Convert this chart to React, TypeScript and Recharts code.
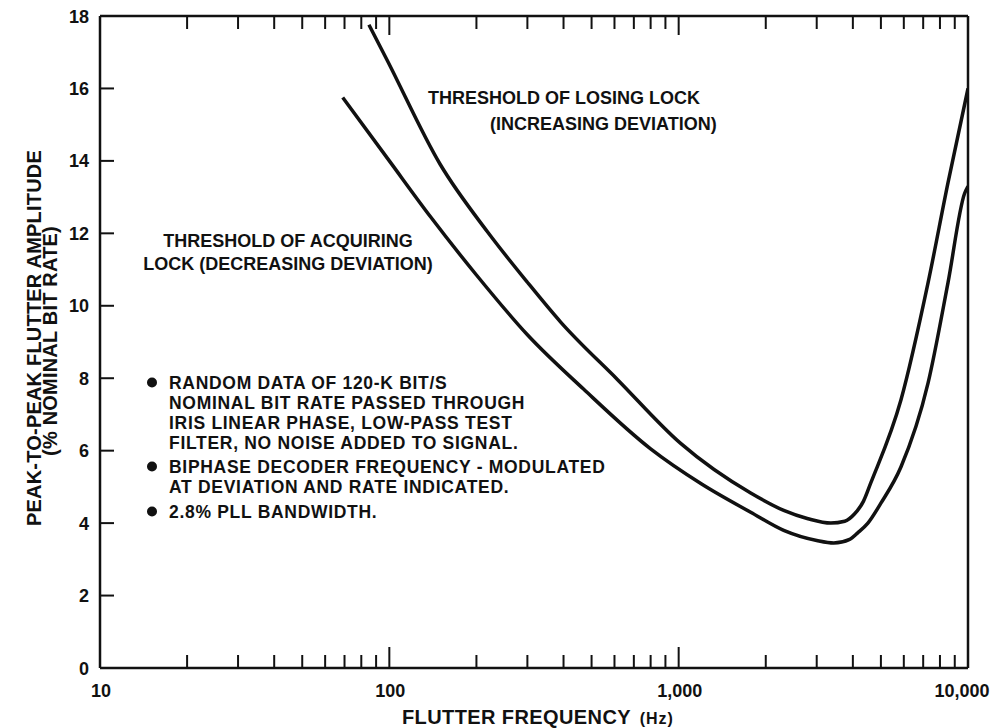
import { LineChart, Line, XAxis, YAxis, Customized } from 'recharts';

// threshold of losing lock (increasing deviation)
const losingFreq = [85, 98, 150, 218, 300, 391, 615, 1016, 1774, 2307, 2800, 3357, 3750, 4050, 4350, 4613, 5864, 7279, 8530, 10000];
const losingAmp = [17.76, 16.8, 13.9, 12.05, 10.65, 9.55, 7.96, 6.2, 4.83, 4.35, 4.12, 4.0, 4.05, 4.25, 4.6, 5.11, 7.4, 10.64, 13.4, 16.0];

// threshold of acquiring lock (decreasing deviation)
const acquiringFreq = [69, 100, 139, 200, 300, 469, 800, 1200, 1774, 2307, 3000, 3436, 3900, 4157, 4508, 5000, 5864, 7279, 8530, 9730, 10000];
const acquiringAmp = [15.75, 14.0, 12.45, 10.85, 9.2, 7.7, 6.05, 5.08, 4.3, 3.8, 3.52, 3.45, 3.55, 3.73, 4.0, 4.55, 5.55, 7.87, 10.64, 13.1, 13.3];

const freqTicks = [
  10, 20, 30, 40, 50, 60, 70, 80, 90,
  100, 200, 300, 400, 500, 600, 700, 800, 900,
  1000, 2000, 3000, 4000, 5000, 6000, 7000, 8000, 9000, 10000,
];
const freqLabels: Record<number, string> = { 10: '10', 100: '100', 1000: '1,000', 10000: '10,000' };
const ampTicks = [0, 2, 4, 6, 8, 10, 12, 14, 16, 18];

const notes = [
  ['RANDOM DATA OF 120-K BIT/S', 'NOMINAL BIT RATE PASSED THROUGH', 'IRIS LINEAR PHASE, LOW-PASS TEST', 'FILTER, NO NOISE ADDED TO SIGNAL.'],
  ['BIPHASE DECODER FREQUENCY - MODULATED', 'AT DEVIATION AND RATE INDICATED.'],
  ['2.8% PLL BANDWIDTH.'],
];

const losing = losingFreq.map((f, i) => ({ f, amp: losingAmp[i] }));
const acquiring = acquiringFreq.map((f, i) => ({ f, amp: acquiringAmp[i] }));

const FONT = '"Liberation Sans", Arial, Helvetica, sans-serif';
const INK = '#111111';

function BottomTick({ x, y, payload }: any) {
  const v = payload.value;
  const len = v === 100 || v === 1000 ? 20 : v === 10 || v === 10000 ? 0 : 12;
  const label = freqLabels[v];
  const base = y - 1;
  return (
    <g>
      {len > 0 && <line x1={x} y1={base} x2={x} y2={base - len} stroke={INK} strokeWidth={2} />}
      {label && (
        <text x={x} y={base + 30} dx={v === 10000 ? -6 : 1} textAnchor="middle" fontFamily={FONT} fontWeight="bold" fontSize={18} fill={INK}>
          {label}
        </text>
      )}
    </g>
  );
}

function TopTick({ x, y, payload }: any) {
  const v = payload.value;
  const len = v === 100 || v === 1000 ? 18 : v === 10 || v === 10000 ? 0 : 12;
  if (!len) return <g />;
  return <line x1={x} y1={y + 1} x2={x} y2={y + 1 + len} stroke={INK} strokeWidth={2} />;
}

function LeftTick({ x, y, payload }: any) {
  const base = x + 1;
  return (
    <g>
      <line x1={base} y1={y} x2={base + 13} y2={y} stroke={INK} strokeWidth={2} />
      <text x={base - 12} y={y + 6.5} textAnchor="end" fontFamily={FONT} fontWeight="bold" fontSize={18} fill={INK}>
        {payload.value}
      </text>
    </g>
  );
}

function RightTick({ x, y }: any) {
  const base = x - 1;
  return <line x1={base} y1={y} x2={base - 13} y2={y} stroke={INK} strokeWidth={2} />;
}

function Annotations() {
  const txt = { fontFamily: FONT, fontWeight: 'bold' as const, fill: INK };
  let line = 0;
  const lineBases = [389, 409, 429, 449, 473, 493, 518];
  return (
    <g>
      <text {...txt} fontSize={18} x={428} y={104}>THRESHOLD OF LOSING LOCK</text>
      <text {...txt} fontSize={18} x={490} y={130}>(INCREASING DEVIATION)</text>
      <text {...txt} fontSize={18} x={288} y={247} textAnchor="middle">THRESHOLD OF ACQUIRING</text>
      <text {...txt} fontSize={18} x={288} y={270} textAnchor="middle">LOCK (DECREASING DEVIATION)</text>
      {notes.map((block, bi) => (
        <g key={bi}>
          <circle cx={152} cy={lineBases[line] - 6.5} r={5} fill={INK} />
          {block.map((t) => {
            const yy = lineBases[line++];
            return (
              <text key={t} {...txt} fontSize={17.5} letterSpacing={0.7} x={169} y={yy}>
                {t}
              </text>
            );
          })}
        </g>
      ))}
      <text {...txt} fontSize={20} letterSpacing={0.4} x={402} y={724}>
        FLUTTER FREQUENCY <tspan fontSize={16} letterSpacing={1} dx={3}>(Hz)</tspan>
      </text>
      <text {...txt} fontSize={20} letterSpacing={0.2} transform="translate(41,338) rotate(-90)" textAnchor="middle">
        PEAK-TO-PEAK FLUTTER AMPLITUDE
      </text>
      <text {...txt} fontSize={20} letterSpacing={0.2} transform="translate(57,341) rotate(-90)" textAnchor="middle">
        (% NOMINAL BIT RATE)
      </text>
    </g>
  );
}

export default function App() {
  return (
    <div style={{ position: 'absolute', left: 0, top: 0, background: '#fff' }}>
      <LineChart width={992} height={728} margin={{ top: 15, right: 23, bottom: 59, left: 99 }}>
        <XAxis
          xAxisId="bottom"
          dataKey="f"
          type="number"
          scale="log"
          domain={[10, 10000]}
          ticks={freqTicks}
          interval={0}
          height={1}
          tickSize={0}
          tickMargin={0}
          tickLine={false}
          tick={<BottomTick />}
          axisLine={{ stroke: INK, strokeWidth: 2.5 }}
          allowDataOverflow
        />
        <XAxis
          xAxisId="top"
          orientation="top"
          dataKey="f"
          type="number"
          scale="log"
          domain={[10, 10000]}
          ticks={freqTicks}
          interval={0}
          height={1}
          tickSize={0}
          tickMargin={0}
          tickLine={false}
          tick={<TopTick />}
          axisLine={{ stroke: INK, strokeWidth: 2.5 }}
          allowDataOverflow
        />
        <YAxis
          yAxisId="left"
          type="number"
          domain={[0, 18]}
          ticks={ampTicks}
          interval={0}
          width={1}
          tickSize={0}
          tickMargin={0}
          tickLine={false}
          tick={<LeftTick />}
          axisLine={{ stroke: INK, strokeWidth: 2.5 }}
        />
        <YAxis
          yAxisId="right"
          orientation="right"
          type="number"
          domain={[0, 18]}
          ticks={ampTicks}
          interval={0}
          width={1}
          tickSize={0}
          tickMargin={0}
          tickLine={false}
          tick={<RightTick />}
          axisLine={{ stroke: INK, strokeWidth: 2.5 }}
        />
        <Line
          xAxisId="bottom"
          yAxisId="left"
          data={losing}
          dataKey="amp"
          type="monotone"
          stroke={INK}
          strokeWidth={3.5}
          dot={false}
          isAnimationActive={false}
        />
        <Line
          xAxisId="bottom"
          yAxisId="left"
          data={acquiring}
          dataKey="amp"
          type="monotone"
          stroke={INK}
          strokeWidth={3.5}
          dot={false}
          isAnimationActive={false}
        />
        <Customized component={Annotations} />
      </LineChart>
    </div>
  );
}
